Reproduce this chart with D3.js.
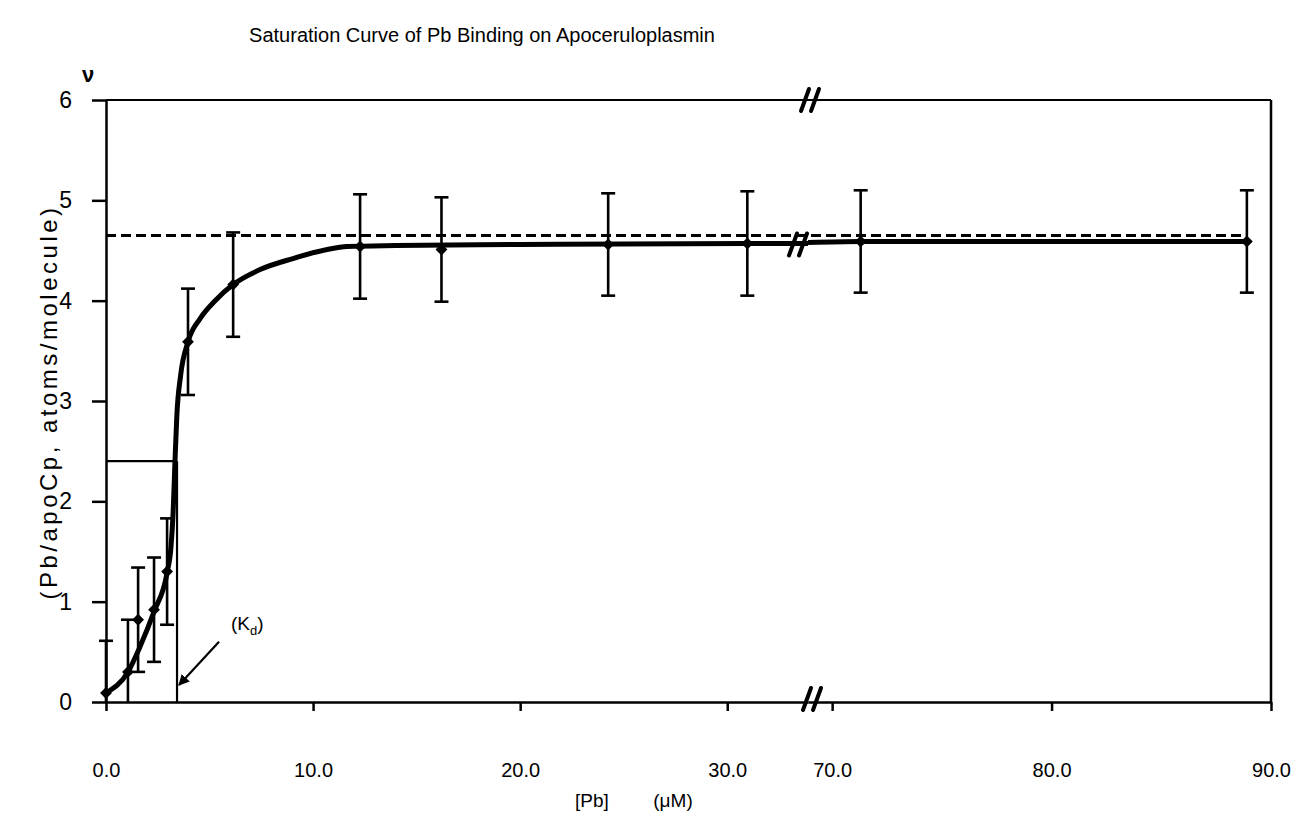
<!DOCTYPE html>
<html>
<head>
<meta charset="utf-8">
<script src="https://cdn.jsdelivr.net/npm/d3@7"></script>
<style>
  html, body { margin: 0; padding: 0; background: #fff; }
  svg { display: block; font-family: "Liberation Sans", Arial, sans-serif; }
</style>
</head>
<body>
<svg id="chart" width="1312" height="819"></svg>
<script>
// ---------------- data ----------------
const title = "Saturation Curve  of Pb Binding on Apoceruloplasmin";
const yLabel = "(Pb/apoCp, atoms/molecule)";
const xLabelParts = ["[Pb]", "(\u03bcM)"];
const nuLabel = "\u03bd";

// measured points: [Pb] (uM), nu, error
const pbConc = [0, 1.06, 1.55, 2.32, 2.95, 3.96, 6.14, 12.27, 16.2, 24.25, 30.97, 71.3, 88.9];
const nuMean = [0.09, 0.30, 0.82, 0.92, 1.30, 3.59, 4.16, 4.54, 4.51, 4.56, 4.57, 4.59, 4.59];
const nuErr  = [0.52, 0.52, 0.52, 0.52, 0.53, 0.53, 0.52, 0.52, 0.52, 0.51, 0.52, 0.51, 0.51];

// fitted saturation curve
const curveX = [0, 1.06, 1.64, 2.32, 2.95, 3.14, 3.24, 3.33, 3.42, 3.6, 3.96, 4.54, 5.27, 6.14, 7.44, 9.03, 10.68, 11.64, 14, 20, 30.97, 33.9];
const curveY = [0.09, 0.30, 0.55, 0.90, 1.29, 1.55, 1.88, 2.39, 2.85, 3.25, 3.59, 3.82, 4.00, 4.16, 4.31, 4.42, 4.51, 4.54, 4.55, 4.56, 4.57, 4.57];
const curveRightX = [68.9, 71.3, 88.9];
const curveRightY = [4.58, 4.59, 4.59];

const nuMax = 4.65;         // dashed saturation level
const kdValue = 3.43;       // Kd
const kdHalf = 2.4;         // half-saturation level
const kdLabel = "(K";
const kdSub = "d";

const xTicksLeft = [0, 10, 20, 30];
const xTicksRight = [70, 80, 90];
const yTicks = [0, 1, 2, 3, 4, 5, 6];
const xDomainLeft = [0, 33.9];
const xDomainRight = [68.9, 90];

// ---------------- layout ----------------
const plotLeft = 106, plotRight = 1271, plotTop = 100, plotBottom = 702;
const breakPx = 808;
const font = "Liberation Sans, Arial, sans-serif";

const svg = d3.select("#chart");

const xL = d3.scaleLinear().domain(xDomainLeft).range([plotLeft, breakPx]);
const xR = d3.scaleLinear().domain(xDomainRight).range([breakPx, plotRight]);
const X = v => (v <= xDomainLeft[1] ? xL(v) : xR(v));
const y = d3.scaleLinear().domain([0, 6]).range([plotBottom, plotTop]);

// frame: top and right borders
svg.append("line").attr("x1", plotLeft).attr("x2", plotRight).attr("y1", plotTop).attr("y2", plotTop)
  .attr("stroke", "#000").attr("stroke-width", 2);
svg.append("line").attr("x1", plotRight).attr("x2", plotRight).attr("y1", plotTop).attr("y2", plotBottom)
  .attr("stroke", "#000").attr("stroke-width", 2.5);

// y axis
const yAxis = svg.append("g").attr("transform", `translate(${plotLeft},0)`)
  .call(d3.axisLeft(y).tickValues(yTicks).tickFormat(d3.format("d")).tickSize(14).tickPadding(20).tickSizeOuter(0));
yAxis.selectAll("path,line").attr("stroke", "#000").attr("stroke-width", 2.5);
yAxis.selectAll("text").attr("font-size", 23).attr("fill", "#000").attr("font-family", font);

// x axes (broken)
function styleX(g) {
  g.selectAll("path,line").attr("stroke", "#000").attr("stroke-width", 2.5);
  g.selectAll("text").attr("font-size", 20).attr("fill", "#000").attr("font-family", font);
}
const xAxL = svg.append("g").attr("transform", `translate(0,${plotBottom})`)
  .call(d3.axisBottom(xL).tickValues(xTicksLeft).tickFormat(d3.format(".1f")).tickSize(9).tickPadding(52).tickSizeOuter(0));
styleX(xAxL);
const xAxR = svg.append("g").attr("transform", `translate(0,${plotBottom})`)
  .call(d3.axisBottom(xR).tickValues(xTicksRight).tickFormat(d3.format(".1f")).tickSize(9).tickPadding(52).tickSizeOuter(0));
styleX(xAxR);

// dashed saturation line
svg.append("line")
  .attr("x1", X(0)).attr("x2", X(88.9)).attr("y1", y(nuMax)).attr("y2", y(nuMax))
  .attr("stroke", "#000").attr("stroke-width", 3).attr("stroke-dasharray", "10,5");

// Kd construction lines
svg.append("line").attr("x1", X(0)).attr("x2", X(kdValue) - 2).attr("y1", y(kdHalf)).attr("y2", y(kdHalf))
  .attr("stroke", "#000").attr("stroke-width", 2.2);
svg.append("line").attr("x1", X(kdValue)).attr("x2", X(kdValue)).attr("y1", y(kdHalf)).attr("y2", y(0))
  .attr("stroke", "#000").attr("stroke-width", 2.2);

// fitted curve
const line = d3.line().x(d => X(d[0])).y(d => y(d[1])).curve(d3.curveMonotoneX);
svg.append("path").datum(d3.zip(curveX, curveY)).attr("d", line)
  .attr("fill", "none").attr("stroke", "#000").attr("stroke-width", 5).attr("stroke-linejoin", "round");
svg.append("path").datum(d3.zip(curveRightX, curveRightY)).attr("d", line)
  .attr("fill", "none").attr("stroke", "#000").attr("stroke-width", 5);

// error bars
const pts = pbConc.map((c, i) => ({ c, m: nuMean[i], e: nuErr[i] }));
const capW = 7;
const eb = svg.append("g").attr("stroke", "#000").attr("stroke-width", 2.6);
pts.forEach(p => {
  const lo = Math.max(0, p.m - p.e), hi = p.m + p.e;
  const px = X(p.c);
  eb.append("line").attr("x1", px).attr("x2", px).attr("y1", y(lo)).attr("y2", y(hi));
  eb.append("line").attr("x1", px - capW).attr("x2", px + capW).attr("y1", y(hi)).attr("y2", y(hi));
  if (p.m - p.e > 0) eb.append("line").attr("x1", px - capW).attr("x2", px + capW).attr("y1", y(lo)).attr("y2", y(lo));
});

// diamond markers
svg.append("g").selectAll("path").data(pts).join("path")
  .attr("d", d3.symbol().type(d3.symbolSquare).size(70))
  .attr("transform", d => `translate(${X(d.c)},${y(d.m)}) rotate(45)`)
  .attr("fill", "#000");

// break marks "//"
function breakMark(cx, cy) {
  const g = svg.append("g").attr("stroke", "#000").attr("stroke-width", 4).attr("stroke-linecap", "round");
  [-5, 5].forEach(o => {
    g.append("line").attr("x1", cx + o - 4).attr("y1", cy + 11).attr("x2", cx + o + 4).attr("y2", cy - 11);
  });
}
breakMark(breakPx + 2, y(6));
breakMark(breakPx - 10, y(4.56));
breakMark(breakPx + 4, y(0) - 3);

// Kd annotation
const kdPt = [X(kdValue) + 2, y(0.17)];
const kdFrom = [X(kdValue) + 42, y(0.6)];
svg.append("defs").append("marker").attr("id", "arr").attr("viewBox", "0 0 10 10")
  .attr("refX", 9).attr("refY", 5).attr("markerWidth", 5).attr("markerHeight", 5).attr("orient", "auto")
  .append("path").attr("d", "M0,0 L10,5 L0,10 z").attr("fill", "#000");
svg.append("line").attr("x1", kdFrom[0]).attr("y1", kdFrom[1]).attr("x2", kdPt[0]).attr("y2", kdPt[1])
  .attr("stroke", "#000").attr("stroke-width", 2.2).attr("marker-end", "url(#arr)");
const kdT = svg.append("text").attr("x", kdFrom[0] + 12).attr("y", y(0.72)).attr("font-size", 19).attr("fill", "#000");
kdT.append("tspan").text(kdLabel);
kdT.append("tspan").attr("font-size", 13).attr("dy", 5).text(kdSub);
kdT.append("tspan").attr("dy", -5).text(")");

// title
svg.append("text").attr("x", 482).attr("y", 42).attr("text-anchor", "middle")
  .attr("font-size", 20).attr("fill", "#000").text(title);

// nu
svg.append("text").attr("x", 88).attr("y", 82).attr("text-anchor", "middle")
  .attr("font-size", 22).attr("font-weight", "bold").attr("fill", "#000").text(nuLabel);

// y label
svg.append("text").attr("transform", `translate(57,402) rotate(-90)`)
  .attr("text-anchor", "middle").attr("font-size", 24).attr("letter-spacing", 3.5)
  .attr("fill", "#000").text(yLabel);

// x label
svg.append("text").attr("x", 592).attr("y", 807).attr("text-anchor", "middle")
  .attr("font-size", 19).attr("fill", "#000").text(xLabelParts[0]);
svg.append("text").attr("x", 673).attr("y", 807).attr("text-anchor", "middle")
  .attr("font-size", 19).attr("fill", "#000").text(xLabelParts[1]);
</script>
</body>
</html>
